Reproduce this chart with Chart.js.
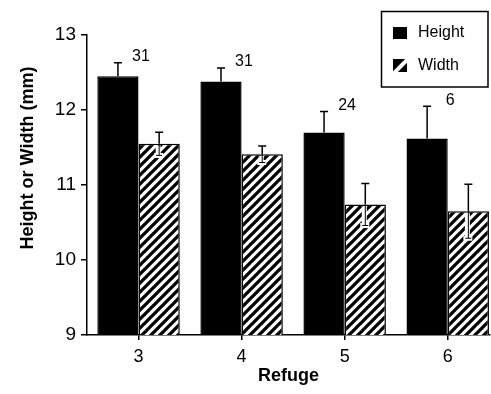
<!DOCTYPE html>
<html lang="en">
<head>
  <meta charset="UTF-8">
  <title>Height or Width by Refuge</title>
  <script src="https://cdn.jsdelivr.net/npm/chart.js"></script>
  <style>
    html, body { margin: 0; padding: 0; background: #fff; overflow: hidden; }
    #wrap { width: 491px; height: 394px; }
  </style>
</head>
<body>
  <div id="wrap"><canvas id="refugeChart"></canvas></div>

  <script>
    const refuges = ['3', '4', '5', '6'];
    const heightMeans = [12.45, 12.38, 11.70, 11.62];
    const heightErr = [0.18, 0.18, 0.28, 0.43];
    const widthMeans = [11.55, 11.41, 10.74, 10.65];
    const widthErr = [0.155, 0.11, 0.28, 0.36];
    const sampleSizes = ['31', '31', '24', '6'];
    const yTicks = [9, 10, 11, 12, 13];

    const FONT = '"Liberation Sans", Arial, Helvetica, sans-serif';

    function makeHatch() {
      const c = document.createElement('canvas');
      c.width = 9; c.height = 9;
      const g = c.getContext('2d');
      g.fillStyle = '#fff';
      g.fillRect(0, 0, 9, 9);
      g.strokeStyle = '#000';
      g.lineWidth = 3.3;
      g.beginPath();
      for (let k = -1; k <= 1; k++) {
        g.moveTo(-9 + k * 9, 18);
        g.lineTo(18 + k * 9, -9);
      }
      g.stroke();
      return g.createPattern(c, 'repeat');
    }

    const ctx = document.getElementById('refugeChart').getContext('2d');
    const hatch = makeHatch();

    // error bars, n labels, legend box and the y title
    const errorsAndNotes = {
      id: 'errorsAndNotes',
      afterDatasetsDraw(chart) {
        const c = chart.ctx;
        const y = chart.scales.y;
        const sets = [
          { means: heightMeans, err: heightErr, lower: false },
          { means: widthMeans, err: widthErr, lower: true }
        ];
        c.save();
        sets.forEach((s, d) => {
          const meta = chart.getDatasetMeta(d);
          meta.data.forEach((bar, i) => {
            const top = y.getPixelForValue(s.means[i]);
            const up = y.getPixelForValue(s.means[i] + s.err[i]);
            c.strokeStyle = '#000';
            c.lineWidth = 1.5;
            c.beginPath();
            c.moveTo(bar.x, top);
            c.lineTo(bar.x, up);
            c.moveTo(bar.x - 4, up);
            c.lineTo(bar.x + 4, up);
            c.stroke();
            if (s.lower) {
              const lo = y.getPixelForValue(s.means[i] - s.err[i]);
              c.strokeStyle = '#fff';
              c.lineWidth = 5;
              c.beginPath();
              c.moveTo(bar.x - 1, top + 2);
              c.lineTo(bar.x - 1, lo + 2);
              c.moveTo(bar.x - 5, lo);
              c.lineTo(bar.x + 4, lo);
              c.stroke();
              c.strokeStyle = '#000';
              c.lineWidth = 1;
              c.beginPath();
              c.moveTo(bar.x, top);
              c.lineTo(bar.x, lo);
              c.moveTo(bar.x - 3, lo);
              c.lineTo(bar.x + 3, lo);
              c.stroke();
            }
            if (d === 0) {
              c.fillStyle = '#000';
              c.font = '16px ' + FONT;
              c.textAlign = 'center';
              c.textBaseline = 'middle';
              c.fillText(sampleSizes[i], bar.x + 23, up - 6);
            }
          });
        });

        // legend
        c.strokeStyle = '#000';
        c.lineWidth = 1.5;
        c.strokeRect(381.5, 11.5, 106.5, 75.5);
        c.fillStyle = '#000';
        c.fillRect(393, 27, 14, 12);
        c.fillRect(393, 59, 14, 13);
        c.save();
        c.beginPath();
        c.rect(393, 59, 14, 13);
        c.clip();
        c.strokeStyle = '#fff';
        c.lineWidth = 4;
        c.beginPath();
        c.moveTo(393, 74);
        c.lineTo(409, 58);
        c.stroke();
        c.restore();
        c.fillStyle = '#000';
        c.font = '16px ' + FONT;
        c.textAlign = 'left';
        c.textBaseline = 'middle';
        c.fillText('Height', 418, 33);
        c.fillText('Width', 418, 66);

        // y axis title
        c.translate(28, 158);
        c.rotate(-Math.PI / 2);
        c.font = 'bold 18px ' + FONT;
        c.textAlign = 'center';
        c.textBaseline = 'middle';
        c.fillText('Height or Width (mm)', 0, 0);
        c.restore();
      }
    };

    new Chart(ctx, {
      type: 'bar',
      data: {
        datasets: [
          {
            label: 'Height',
            data: refuges.map((r, i) => ({ x: Number(r), y: heightMeans[i] })),
            backgroundColor: '#000',
            borderColor: '#000',
            borderWidth: 1.5
          },
          {
            label: 'Width',
            data: refuges.map((r, i) => ({ x: Number(r), y: widthMeans[i] })),
            backgroundColor: hatch,
            borderColor: '#000',
            borderWidth: 1.5
          }
        ]
      },
      options: {
        responsive: true,
        maintainAspectRatio: false,
        animation: false,
        layout: { padding: { top: 35, right: 1, left: 0, bottom: 0 } },
        datasets: { bar: { categoryPercentage: 0.8, barPercentage: 1 } },
        plugins: {
          legend: { display: false },
          tooltip: { enabled: false }
        },
        scales: {
          x: {
            type: 'linear',
            offset: false,
            min: 2.5,
            max: 6.41,
            afterBuildTicks: axis => { axis.ticks = refuges.map(r => ({ value: Number(r) })); },
            afterFit: axis => { axis.height = 59; },
            grid: { offset: false, drawOnChartArea: false, drawTicks: true, tickLength: 5, color: '#000', lineWidth: 1.5 },
            border: { color: '#000', width: 1.5 },
            ticks: { color: '#000', font: { family: FONT, size: 18 }, padding: 6 },
            title: {
              display: true, text: 'Refuge', color: '#000',
              font: { family: FONT, size: 18, weight: 'bold' },
              padding: { top: 0, bottom: 7 }
            }
          },
          y: {
            min: 9,
            max: 13,
            afterBuildTicks: axis => { axis.ticks = yTicks.map(v => ({ value: v })); },
            afterFit: axis => { axis.width = 87; },
            grid: { drawOnChartArea: false, drawTicks: true, tickLength: 6, color: '#000', lineWidth: 1.5 },
            border: { color: '#000', width: 1.5 },
            ticks: { color: '#000', font: { family: FONT, size: 19 }, padding: 5 }
          }
        }
      },
      plugins: [errorsAndNotes]
    });
  </script>
</body>
</html>
